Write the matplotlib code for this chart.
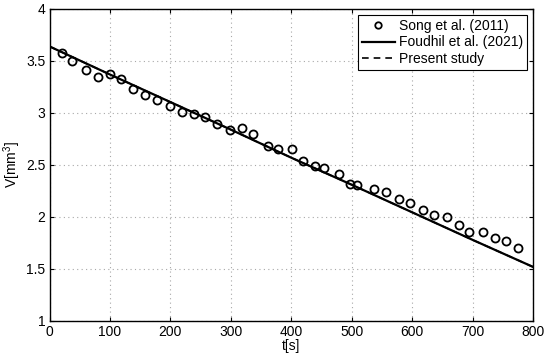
import matplotlib
matplotlib.use("Agg")
import matplotlib.pyplot as plt

# Song et al. (2011) experimental points
song_t = [20, 38, 61, 80, 100, 119, 138, 158, 178, 200, 219, 239, 257, 277, 299,
          318, 336, 361, 378, 401, 419, 439, 455, 479, 498, 509, 537, 557, 578,
          597, 618, 636, 657, 678, 695, 717, 738, 756, 775]
song_v = [3.58, 3.50, 3.41, 3.35, 3.375, 3.33, 3.23, 3.17, 3.12, 3.07, 3.01, 2.99,
          2.965, 2.89, 2.84, 2.86, 2.80, 2.68, 2.65, 2.65, 2.54, 2.49, 2.47, 2.41,
          2.32, 2.31, 2.27, 2.24, 2.17, 2.13, 2.07, 2.02, 2.00, 1.92, 1.86, 1.86,
          1.80, 1.77, 1.705]

# Foudhil et al. (2021) model curve
foud_t = [0, 100, 200, 300, 400, 500, 600, 700, 800]
foud_v = [3.64, 3.37, 3.105, 2.84, 2.57, 2.31, 2.045, 1.78, 1.52]

# Present study curve
pres_t = [0, 100, 200, 300, 400, 500, 600, 700, 800]
pres_v = [3.64, 3.37, 3.105, 2.84, 2.57, 2.31, 2.045, 1.78, 1.52]

xticks = [0, 100, 200, 300, 400, 500, 600, 700, 800]
yticks = [1, 1.5, 2, 2.5, 3, 3.5, 4]
ytick_labels = ['1', '1.5', '2', '2.5', '3', '3.5', '4']

plt.rcParams['font.family'] = ['Liberation Sans', 'DejaVu Sans']
plt.rcParams['mathtext.fontset'] = 'custom'
plt.rcParams['mathtext.rm'] = 'Liberation Sans'

fig = plt.figure(figsize=(5.5, 3.59), dpi=100)
ax = fig.add_axes([0.09, 0.106, 0.879, 0.869])

ax.plot(song_t, song_v, linestyle='none', marker='o', markersize=5.8,
        markerfacecolor='none', markeredgecolor='black', markeredgewidth=1.3,
        label='Song et al. (2011)')
ax.plot(foud_t, foud_v, color='black', linewidth=1.6, label='Foudhil et al. (2021)')
ax.plot(pres_t, pres_v, color='black', linewidth=1.2, linestyle=(0, (4, 3)),
        label='Present study')

ax.set_xlim(0, 800)
ax.set_ylim(1, 4)
ax.set_xticks(xticks)
ax.set_yticks(yticks)
ax.set_yticklabels(ytick_labels)
ax.tick_params(direction='in', labelsize=10, length=3, width=0.8,
               top=True, right=True, pad=3)
ax.grid(True, linestyle=(0, (1, 3)), color='#a8a8a8', linewidth=0.8)
for s in ax.spines.values():
    s.set_linewidth(1.0)

ax.set_xlabel('t[s]', fontsize=10, labelpad=0)
ax.set_ylabel('V[mm$^3$]', fontsize=10, labelpad=2)

leg = ax.legend(loc='upper right', fontsize=10, frameon=True, fancybox=False,
                edgecolor='black', framealpha=1, borderpad=0.25,
                handlelength=2.4, handletextpad=0.3, labelspacing=0.2,
                borderaxespad=0.45, markerscale=0.8)
leg.get_frame().set_linewidth(0.8)

fig.savefig('out.png', dpi=100)
